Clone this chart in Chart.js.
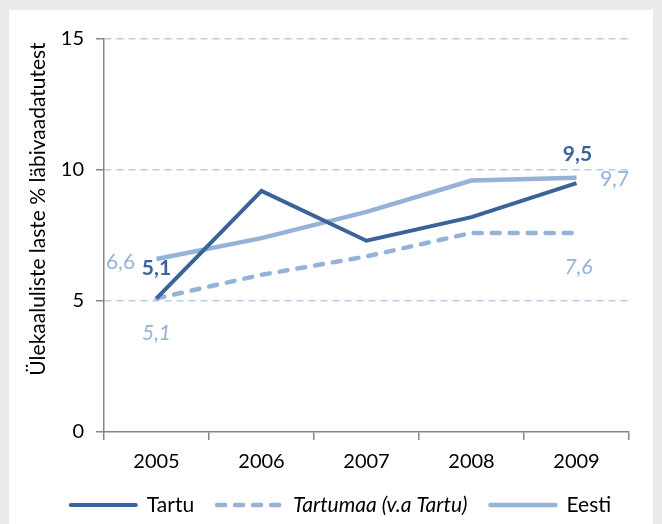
<!DOCTYPE html>
<html>
<head>
<meta charset="utf-8">
<script src="https://cdn.jsdelivr.net/npm/chart.js@4.4.0/dist/chart.umd.min.js"></script>
<style>
    html, body { margin: 0; padding: 0; background: #ebebeb; }
    #wrap { position: relative; width: 662px; height: 524px; overflow: hidden; }
    #panel { position: absolute; left: 9px; top: 10px; width: 644px; height: 530px; background: #fff; }
    #myChart { position: absolute; left: 0; top: 0; }
</style>
</head>
<body>
<div id="wrap">
    <div id="panel"></div>
    <canvas id="myChart" width="662" height="524" style="width:662px;height:524px"></canvas>
</div>
<script>
// andmed
const years = ["2005", "2006", "2007", "2008", "2009"];
const tartu = [5.1, 9.2, 7.3, 8.2, 9.5];
const tartumaa = [5.1, 6.0, 6.7, 7.6, 7.6];
const eesti = [6.6, 7.4, 8.4, 9.6, 9.7];
const yTicks = [0, 5, 10, 15];
const seriesNames = ["Tartu", "Tartumaa (v.a Tartu)", "Eesti"];
const yTitle = "Ülekaaluliste laste % läbivaadatutest";

const FONT = "Lato, 'Open Sans', sans-serif";
const DARK = "#3a6499";
const LIGHT = "#95b3d7";
const GRID = "#b9cde5";
const AXIS = "#868686";

// väärtuste sildid, legend ja telje pealkiri
const customDraw = {
    id: "customDraw",
    afterDatasetsDraw(chart) {
        const ctx = chart.ctx;
        ctx.save();
        ctx.textAlign = "center";
        ctx.textBaseline = "middle";
        chart.data.datasets.forEach((ds, i) => {
            const meta = chart.getDatasetMeta(i);
            (ds.valueLabels || []).forEach(l => {
                const pt = meta.data[l.index];
                ctx.font = l.font;
                ctx.fillStyle = l.color;
                ctx.fillText(ds.data[l.index].toFixed(1).replace(".", ","), pt.x + l.dx, pt.y + l.dy);
            });
        });

        // legend
        const lineW = 69, gapText = 9, gapItem = 21, legendY = 505;
        const items = chart.data.datasets.map(ds => {
            ctx.font = ds.legendFont;
            return { ds, w: ctx.measureText(ds.label).width };
        });
        let total = items.reduce((s, it) => s + lineW + gapText + it.w, 0) + gapItem * (items.length - 1);
        let x = 340 - total / 2;
        items.forEach(it => {
            ctx.beginPath();
            ctx.strokeStyle = it.ds.borderColor;
            ctx.lineWidth = it.ds.borderWidth;
            ctx.lineCap = "round";
            ctx.setLineDash(it.ds.borderDash || []);
            ctx.moveTo(x + 2, legendY);
            ctx.lineTo(x + lineW - 2, legendY);
            ctx.stroke();
            ctx.setLineDash([]);
            x += lineW + gapText;
            ctx.font = it.ds.legendFont;
            ctx.fillStyle = "#000";
            ctx.textAlign = "left";
            ctx.fillText(it.ds.label, x, legendY);
            x += it.w + gapItem;
        });

        // y telje pealkiri
        ctx.translate(38, 209);
        ctx.rotate(-Math.PI / 2);
        ctx.textAlign = "center";
        ctx.font = "21px " + FONT;
        ctx.fillStyle = "#000";
        ctx.fillText(yTitle, 0, 0);
        ctx.restore();
    }
};

const ctx = document.getElementById("myChart").getContext("2d");
new Chart(ctx, {
    type: "line",
    data: {
        labels: years,
        datasets: [
            {
                label: seriesNames[0],
                data: tartu,
                borderColor: DARK,
                borderWidth: 4,
                legendFont: "21px " + FONT,
                valueLabels: [
                    { index: 0, dx: 0, dy: -30, font: "bold 21px " + FONT, color: DARK },
                    { index: 4, dx: 1, dy: -29, font: "bold 21px " + FONT, color: DARK }
                ]
            },
            {
                label: seriesNames[1],
                data: tartumaa,
                borderColor: LIGHT,
                borderWidth: 4.5,
                borderDash: [8, 10],
                borderCapStyle: "round",
                legendFont: "italic 21px " + FONT,
                valueLabels: [
                    { index: 0, dx: 0, dy: 35, font: "italic 21px " + FONT, color: LIGHT },
                    { index: 4, dx: 2, dy: 34, font: "italic 21px " + FONT, color: LIGHT }
                ]
            },
            {
                label: seriesNames[2],
                data: eesti,
                borderColor: LIGHT,
                borderWidth: 4.5,
                legendFont: "21px " + FONT,
                valueLabels: [
                    { index: 0, dx: -36, dy: 3, font: "21px " + FONT, color: LIGHT },
                    { index: 4, dx: 38, dy: 1, font: "21px " + FONT, color: LIGHT }
                ]
            }
        ]
    },
    options: {
        responsive: false,
        animation: false,
        devicePixelRatio: 1,
        layout: { padding: { left: 0, right: 33, top: 39, bottom: 0 } },
        elements: {
            point: { radius: 0, hoverRadius: 0 },
            line: { tension: 0, fill: false }
        },
        plugins: {
            legend: { display: false },
            tooltip: { enabled: false }
        },
        scales: {
            x: {
                offset: true,
                afterFit: s => { s.height = 92; },
                ticks: { color: "#000", font: { family: FONT, size: 20 }, padding: 10, maxRotation: 0 },
                grid: { offset: true, drawOnChartArea: false, tickColor: AXIS, tickLength: 8, lineWidth: 1.5 },
                border: { color: AXIS, width: 1.5 }
            },
            y: {
                min: 0,
                max: 15,
                afterBuildTicks: s => { s.ticks = yTicks.map(v => ({ value: v })); },
                afterFit: s => { s.width = 104; },
                ticks: { color: "#000", font: { family: FONT, size: 20 }, padding: 12 },
                grid: {
                    color: c => (c.tick && c.tick.value === 0) ? "rgba(0,0,0,0)" : GRID,
                    lineWidth: 1.5,
                    tickColor: AXIS,
                    tickLength: 8
                },
                border: { color: AXIS, width: 1.5, dash: [7, 5] }
            }
        }
    },
    plugins: [customDraw]
});
</script>
</body>
</html>
